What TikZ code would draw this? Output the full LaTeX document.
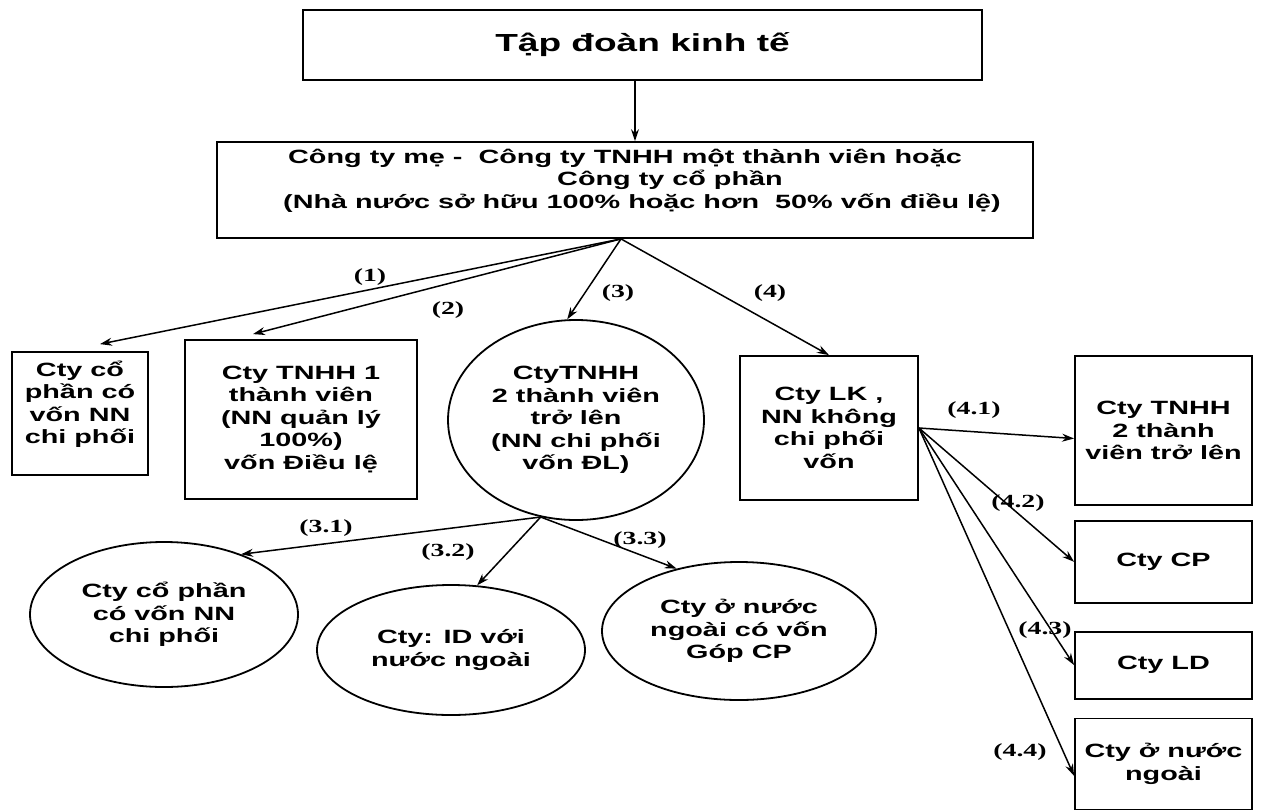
\documentclass[tikz,border=0pt]{standalone}
\usepackage{fontspec}
\usepackage{tikz}
\usetikzlibrary{shapes.geometric, arrows.meta, positioning}
\newfontfamily\boxfont{Liberation Sans}[FakeStretch=1.5]
\newfontfamily\numfont{Liberation Serif}[FakeStretch=1.5]

\begin{document}
\begin{tikzpicture}[
    x=1pt, y=-1pt,
    box/.style={rectangle, draw=black, line width=1.8pt, inner sep=0pt, align=center, font=\boxfont\bfseries\fontsize{19.2}{22.5}\selectfont},
    oval/.style={ellipse, draw=black, line width=1.8pt, inner sep=0pt, align=center, font=\boxfont\bfseries\fontsize{19.2}{22.5}\selectfont},
    tag/.style={inner sep=0pt, font=\numfont\bfseries\fontsize{18.5}{20}\selectfont},
    arrow/.style={-{Stealth[length=12pt, width=8pt]}, line width=1.5pt, draw=black}
]
    \useasboundingbox (0,0) rectangle (1261,809);
    \fill[white] (0,0) rectangle (1261,809);

    % LEVEL 0: GROUP
    \node (group) [box, minimum width=679pt, minimum height=70pt, font=\boxfont\bfseries\fontsize{24.7}{28}\selectfont] at (642.5,45) {Tập đoàn kinh tế};

    % LEVEL 1: PARENT COMPANY
    \node (mom) [box, minimum width=816pt, minimum height=96pt] at (625,190) {Công ty mẹ -\ \ Công ty TNHH một thành viên hoặc \\ \hspace*{90pt}Công ty cổ phần \\ \hspace*{34pt}(Nhà nước sở hữu 100\% hoặc hơn\ \ 50\% vốn điều lệ) \\ \mbox{}};

    % LEVEL 2: SUBSIDIARIES
    \node (jsc) [box, minimum width=136pt, minimum height=123pt] at (80,413.5) {Cty cổ \\ phần có \\ vốn NN \\ chi phối \\ \mbox{}};
    \node (one) [box, minimum width=232pt, minimum height=159pt] at (301,419.5) {Cty TNHH 1 \\ thành viên \\ (NN quản lý \\ 100\%) \\ vốn Điều lệ};
    \node (two) [oval, minimum width=256pt, minimum height=200pt] at (576,420) {CtyTNHH \\ 2 thành viên \\ trở lên \\ (NN chi phối \\ vốn ĐL)};
    \node (lk) [box, minimum width=178pt, minimum height=144pt] at (829,428) {Cty LK , \\ NN không \\ chi phối \\ vốn};

    % LEVEL 3: UNDER THE 2-MEMBER COMPANY
    \node (two1) [oval, minimum width=268pt, minimum height=145pt] at (164,614.5) {Cty cổ phần \\ có vốn NN \\ chi phối};
    \node (two2) [oval, minimum width=268pt, minimum height=130pt] at (451,650) {Cty: ID với \\ nước ngoài};
    \node (two3) [oval, minimum width=274pt, minimum height=138pt] at (739,631) {Cty ở nước \\ ngoài có vốn \\ Góp CP};

    % LEVEL 3: UNDER THE ASSOCIATE COMPANY
    \node (lk1) [box, minimum width=177pt, minimum height=149pt] at (1163.5,430.5) {Cty TNHH \\ 2 thành \\ viên trở lên};
    \node (lk2) [box, minimum width=177pt, minimum height=82pt, below=14pt of lk1] {Cty CP};
    \node (lk3) [box, minimum width=177pt, minimum height=67pt, below=27pt of lk2] {Cty LD};
    \node (lk4) [box, minimum width=177pt, minimum height=91pt, below=18pt of lk3] {Cty ở nước \\ ngoài};

    % LINK LABELS
    \node (t1) [tag] at (370,277) {(1)};
    \node (t2) [tag] at (448,310) {(2)};
    \node (t3) [tag] at (618,293) {(3)};
    \node (t4) [tag] at (770,293) {(4)};
    \node (t31) [tag] at (326,528) {(3.1)};
    \node (t32) [tag] at (448,552) {(3.2)};
    \node (t33) [tag] at (640,540) {(3.3)};
    \node (t41) [tag] at (974,410) {(4.1)};
    \node (t42) [tag] at (1018,503) {(4.2)};
    \node (t43) [tag] at (1045,630) {(4.3)};
    \node (t44) [tag] at (1020,752) {(4.4)};

    % FAN-OUT POINTS
    \coordinate (fanA) at ([xshift=-4pt]mom.south);
    \coordinate (fanB) at (two.250);

    % LINKS
    \draw [arrow] ([xshift=-7.5pt]group.south) -- ([xshift=-7.5pt]group.south |- mom.north);
    \draw [arrow] (fanA) -- ([xshift=20pt, yshift=7pt]jsc.north);
    \draw [arrow] (fanA) -- ([xshift=-48pt, yshift=5pt]one.north);
    \draw [arrow] (fanA) -- (two.95);
    \draw [arrow] (fanA) -- (lk.north);

    \draw [arrow] (fanB) -- (two1.38);
    \draw [arrow] (fanB) -- (two2.68);
    \draw [arrow] (fanB) -- (two3.135);

    \draw [arrow] (lk.east) -- ([yshift=-8pt]lk1.west);
    \draw [arrow] (lk.east) -- (lk2.west);
    \draw [arrow] (lk.east) -- (lk3.west);
    \draw [arrow] (lk.east) -- ([yshift=-12pt]lk4.west);

\end{tikzpicture}
\end{document}
